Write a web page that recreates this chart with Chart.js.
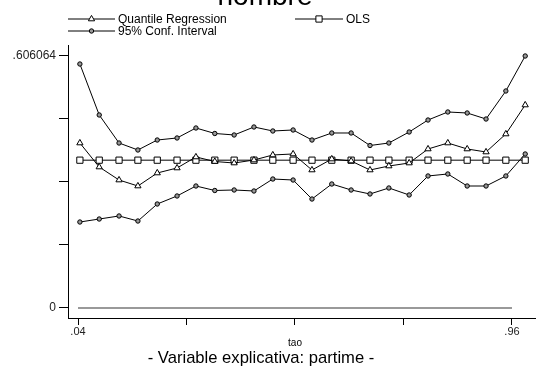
<!DOCTYPE html>
<html>
<head>
<meta charset="utf-8">
<script src="https://cdn.jsdelivr.net/npm/chart.js@4"></script>
<style>
html, body { margin: 0; padding: 0; background: #fff; }
#wrap { width: 536px; height: 367px; }
</style>
</head>
<body>
<div id="wrap"><canvas id="grafico" width="536" height="367"></canvas></div>
<script>
"use strict"
// posiciones de tao
const tao = [.044, .085, .127, .167, .208, .250, .290, .330, .371, .413, .453, .496,
             .536, .578, .619, .659, .699, .742, .782, .824, .865, .905, .947, .988];
const quantileReg = [.3968, .3391, .3078, .2934, .3247, .3367, .3632, .3523, .3487, .3559, .3680, .3704,
                     .3319, .3583, .3535, .3319, .3415, .3487, .3824, .3968, .3824, .3752, .4185, .4882];
const ols = [.3555, .3555, .3555, .3555, .3555, .3555, .3555, .3555, .3555, .3555, .3555, .3555,
             .3555, .3555, .3555, .3555, .3555, .3555, .3555, .3555, .3555, .3555, .3555, .3555];
const confUpper = [.5868, .4642, .3968, .3800, .4040, .4089, .4329, .4197, .4161, .4353, .4257, .4281,
                   .4040, .4209, .4209, .3908, .3968, .4233, .4521, .4714, .4690, .4545, .5219, .606064];
const confLower = [.2068, .2140, .2213, .2092, .2501, .2694, .2934, .2826, .2838, .2814, .3102, .3078,
                   .2621, .2982, .2838, .2742, .2886, .2718, .3175, .3223, .2934, .2934, .3175, .3704];
const zeroLine = [[.04, 0], [.96, 0]];
const xTicks = [.04, .27, .5, .73, .96];
const xTickLabels = [".04", "", "", "", ".96"];
const yTicks = [0, .151516, .303032, .454548, .606064];
const yTickLabels = ["0", "", "", "", ".606064"];

const FONT = "'Liberation Sans', Arial, sans-serif";

function puntos(valores) {
    return tao.map((t, i) => ({x: t, y: valores[i]}));
}

const cabecera = {
    id: "cabecera",
    afterDraw(chart) {
        const ctx = chart.ctx;
        ctx.save();
        ctx.fillStyle = "#000";
        ctx.textAlign = "center";
        ctx.textBaseline = "alphabetic";
        ctx.font = "28px " + FONT;
        ctx.fillText("hombre", 265, 5);

        // leyenda
        const items = [
            {ds: 0, x0: 68, x1: 115, y: 19},
            {ds: 1, x0: 295, x1: 343, y: 19},
            {ds: 2, x0: 68, x1: 115, y: 31}
        ];
        ctx.font = "12px " + FONT;
        ctx.textAlign = "left";
        ctx.textBaseline = "middle";
        for (const it of items) {
            const d = chart.data.datasets[it.ds];
            ctx.strokeStyle = "#000";
            ctx.lineWidth = 1;
            ctx.beginPath();
            ctx.moveTo(it.x0, it.y);
            ctx.lineTo(it.x1, it.y);
            ctx.stroke();
            ctx.fillStyle = d.pointBackgroundColor;
            ctx.strokeStyle = "#000";
            ctx.lineWidth = 1;
            Chart.helpers.drawPoint(ctx, {pointStyle: d.pointStyle, radius: d.pointRadius, rotation: 0, borderWidth: 1},
                (it.x0 + it.x1) / 2, it.y);
            ctx.fillStyle = "#000";
            ctx.fillText(d.label, it.x1 + 3, it.y + 0.5);
        }

        ctx.textAlign = "center";
        ctx.font = "10px " + FONT;
        ctx.fillText("tao", 295, 343);
        ctx.font = "16.6px " + FONT;
        ctx.fillText("- Variable explicativa: partime -", 261, 358);
        ctx.restore();
    }
};

new Chart(document.getElementById("grafico"), {
    type: "line",
    data: {
        datasets: [
            {
                label: "Quantile Regression",
                data: puntos(quantileReg),
                borderColor: "#000", borderWidth: 1,
                pointStyle: "triangle", pointRadius: 3.6,
                pointBackgroundColor: "#fff", pointBorderColor: "#000", pointBorderWidth: 1,
                tension: 0, clip: false
            },
            {
                label: "OLS",
                data: puntos(ols),
                borderColor: "#000", borderWidth: 1,
                pointStyle: "rect", pointRadius: 4.4,
                pointBackgroundColor: "#fff", pointBorderColor: "#000", pointBorderWidth: 1,
                tension: 0, clip: false
            },
            {
                label: "95% Conf. Interval",
                data: puntos(confUpper),
                borderColor: "#000", borderWidth: 1,
                pointStyle: "circle", pointRadius: 2.2,
                pointBackgroundColor: "#999", pointBorderColor: "#000", pointBorderWidth: 1,
                tension: 0, clip: false
            },
            {
                label: "lower",
                data: puntos(confLower),
                borderColor: "#000", borderWidth: 1,
                pointStyle: "circle", pointRadius: 2.2,
                pointBackgroundColor: "#999", pointBorderColor: "#000", pointBorderWidth: 1,
                tension: 0, clip: false
            },
            {
                label: "cero",
                data: zeroLine.map(p => ({x: p[0], y: p[1]})),
                borderColor: "#777", borderWidth: 1.6,
                pointRadius: 0, tension: 0
            }
        ]
    },
    options: {
        responsive: false,
        devicePixelRatio: 1,
        animation: false,
        layout: {autoPadding: false, padding: {top: 45, right: 0, bottom: 0, left: 0}},
        plugins: {
            legend: {display: false},
            tooltip: {enabled: false},
            title: {display: false}
        },
        scales: {
            x: {
                type: "linear",
                min: .0188,
                max: 1.0109,
                afterFit(scale) { scale.height = 49; },
                afterBuildTicks(scale) { scale.ticks = xTicks.map(v => ({value: v})); },
                grid: {display: true, drawOnChartArea: false, drawTicks: true, tickLength: 7, color: "#000"},
                border: {display: true, color: "#000", width: 1},
                ticks: {
                    autoSkip: false, maxRotation: 0, padding: 0,
                    color: "#222", font: {family: FONT, size: 11},
                    callback: (v, i) => xTickLabels[i]
                }
            },
            y: {
                type: "linear",
                min: -.02405,
                max: .6325,
                afterFit(scale) { scale.width = 68; },
                afterBuildTicks(scale) { scale.ticks = yTicks.map(v => ({value: v})); },
                grid: {display: true, drawOnChartArea: false, drawTicks: true, tickLength: 9, color: "#000"},
                border: {display: true, color: "#000", width: 1},
                ticks: {
                    autoSkip: false, padding: 3,
                    color: "#222", font: {family: FONT, size: 12},
                    callback: (v, i) => yTickLabels[i]
                }
            }
        }
    },
    plugins: [cabecera]
});
</script>
</body>
</html>
